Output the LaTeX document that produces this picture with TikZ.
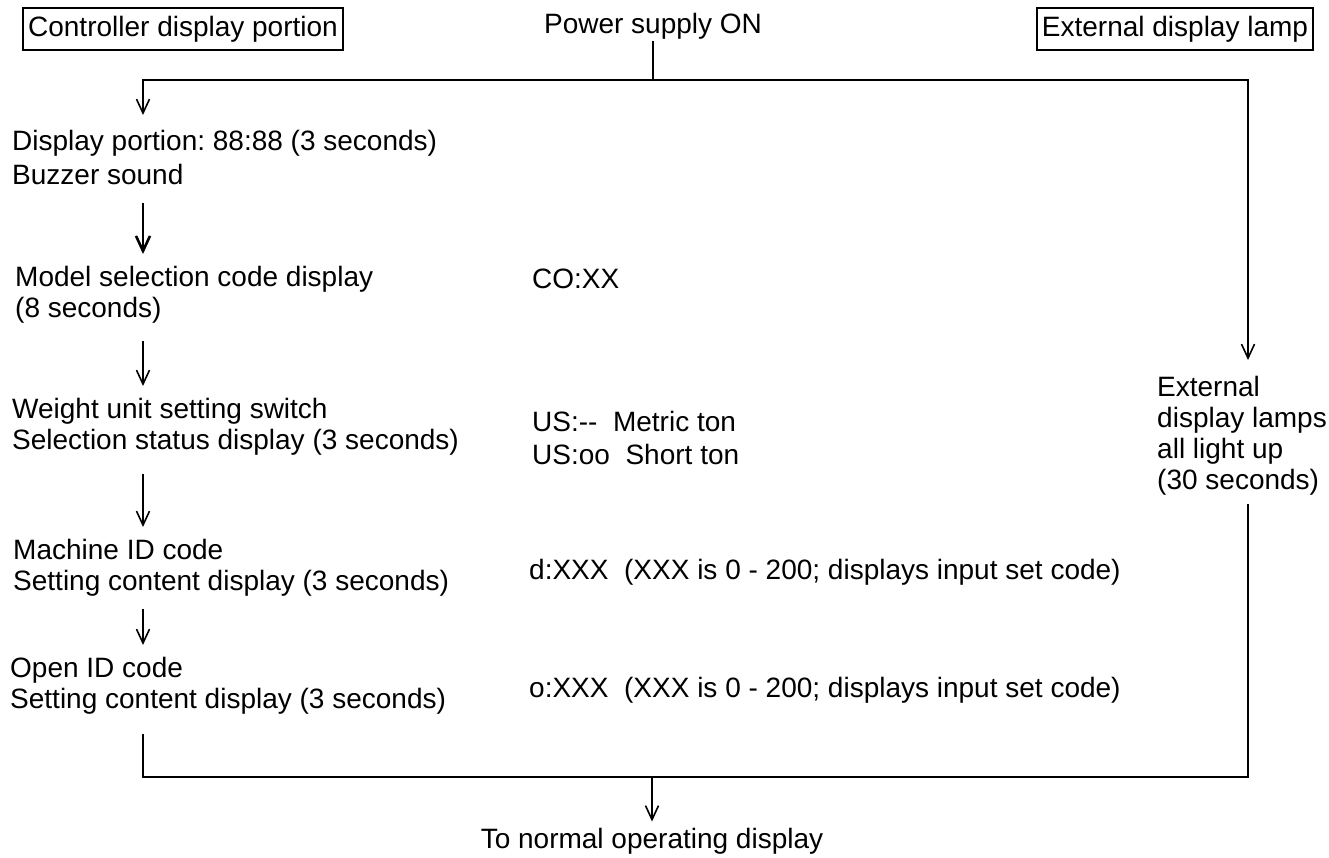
\documentclass[tikz,border=0pt]{standalone}
\usepackage{fontspec}
\setmainfont{Liberation Sans}
\usetikzlibrary{arrows.meta, calc}
\tikzset{
    txt/.style = {inner sep=0pt, align=left, anchor=north west,
                  font=\fontsize{28}{31}\selectfont},
    cue/.style = {inner sep=0pt, anchor=base, font=\fontsize{28}{31}\selectfont},
    boxed/.style = {draw, line width=1.8pt, inner xsep=5pt, inner ysep=8pt,
                    font=\fontsize{28}{31}\selectfont},
    wire/.style = {line width=1.8pt},
    tip/.style = {-{Straight Barb[length=14pt,width=13pt,line width=1.6pt]}},
    boldtip/.style = {-{Straight Barb[length=15pt,width=14pt,line width=2.6pt]}},
    arrow/.style = {tip, line width=1.6pt, shorten <=18pt, shorten >=12pt},
}
\frenchspacing

\begin{document}
\begin{tikzpicture}[x=1pt, y=-1pt]
    \useasboundingbox (0,0) rectangle (1329,857);
    % headings
    \node[boxed] (ctrl) at (183,29) {Controller display portion};
    \node[boxed] (lamp) at (1175,29) {External display lamp};
    \node[cue, inner sep=2pt] (power) at (653,33) {Power supply ON};
    % controller column
    \node[txt] (disp) at (12,130) {Display portion: 88:88 (3 seconds)\\[3pt]Buzzer sound};
    \node[txt] (model) at (15,266) {Model selection code display\\(8 seconds)};
    \node[txt] (weight) at (12,398) {Weight unit setting switch\\Selection status display (3 seconds)};
    \node[txt] (machine) at (13,539) {Machine ID code\\Setting content display (3 seconds)};
    \node[txt] (open) at (10,657) {Open ID code\\Setting content display (3 seconds)};
    % codes shown
    \node[txt] (coxx) at (532,269) {CO:XX};
    \node[txt] (units) at (532,411) {US:-{}-\ \ Metric ton\\[2pt]US:oo\ \ Short ton};
    \node[txt] (dcode) at (529,559) {d:XXX\ \ (XXX is 0 - 200; displays input set code)};
    \node[txt] (ocode) at (529,677) {o:XXX\ \ (XXX is 0 - 200; displays input set code)};
    % lamp column
    \node[txt] (lamps) at (1157,376) {External\\display lamps\\all light up\\(30 seconds)};
    \node[cue] (normal) at (652,848) {To normal operating display};

    \coordinate (spine) at (143,0);
    \coordinate (rail) at (1248,0);
    \coordinate (top) at (653,80);
    \coordinate (bot) at (652,777);

    % power on split
    \draw[wire] (power.south) -- (top);
    \draw[wire, tip] (top) -| ($(disp.north -| spine)+(0,-15)$);
    \draw[wire, tip] (top) -| ($(lamps.north -| rail)+(0,-16)$);
    % steps
    \draw[arrow, boldtip, line width=2.4pt] (disp.south -| spine) -- (model.north -| spine);
    \draw[arrow] (model.south -| spine) -- (weight.north -| spine);
    \draw[arrow] (weight.south -| spine) -- (machine.north -| spine);
    \draw[arrow, shorten <=12pt] (machine.south -| spine) -- (open.north -| spine);
    % join
    \draw[wire] ($(open.south -| spine)+(0,19)$) -- (spine |- bot) -- (rail |- bot)
        -- ($(lamps.south -| rail)+(0,9)$);
    \draw[wire, line width=2.8pt] (spine |- bot) -- (rail |- bot);
    \draw[wire, tip] (bot) -- ($(normal.north)+(0,-6)$);
\end{tikzpicture}
\end{document}
